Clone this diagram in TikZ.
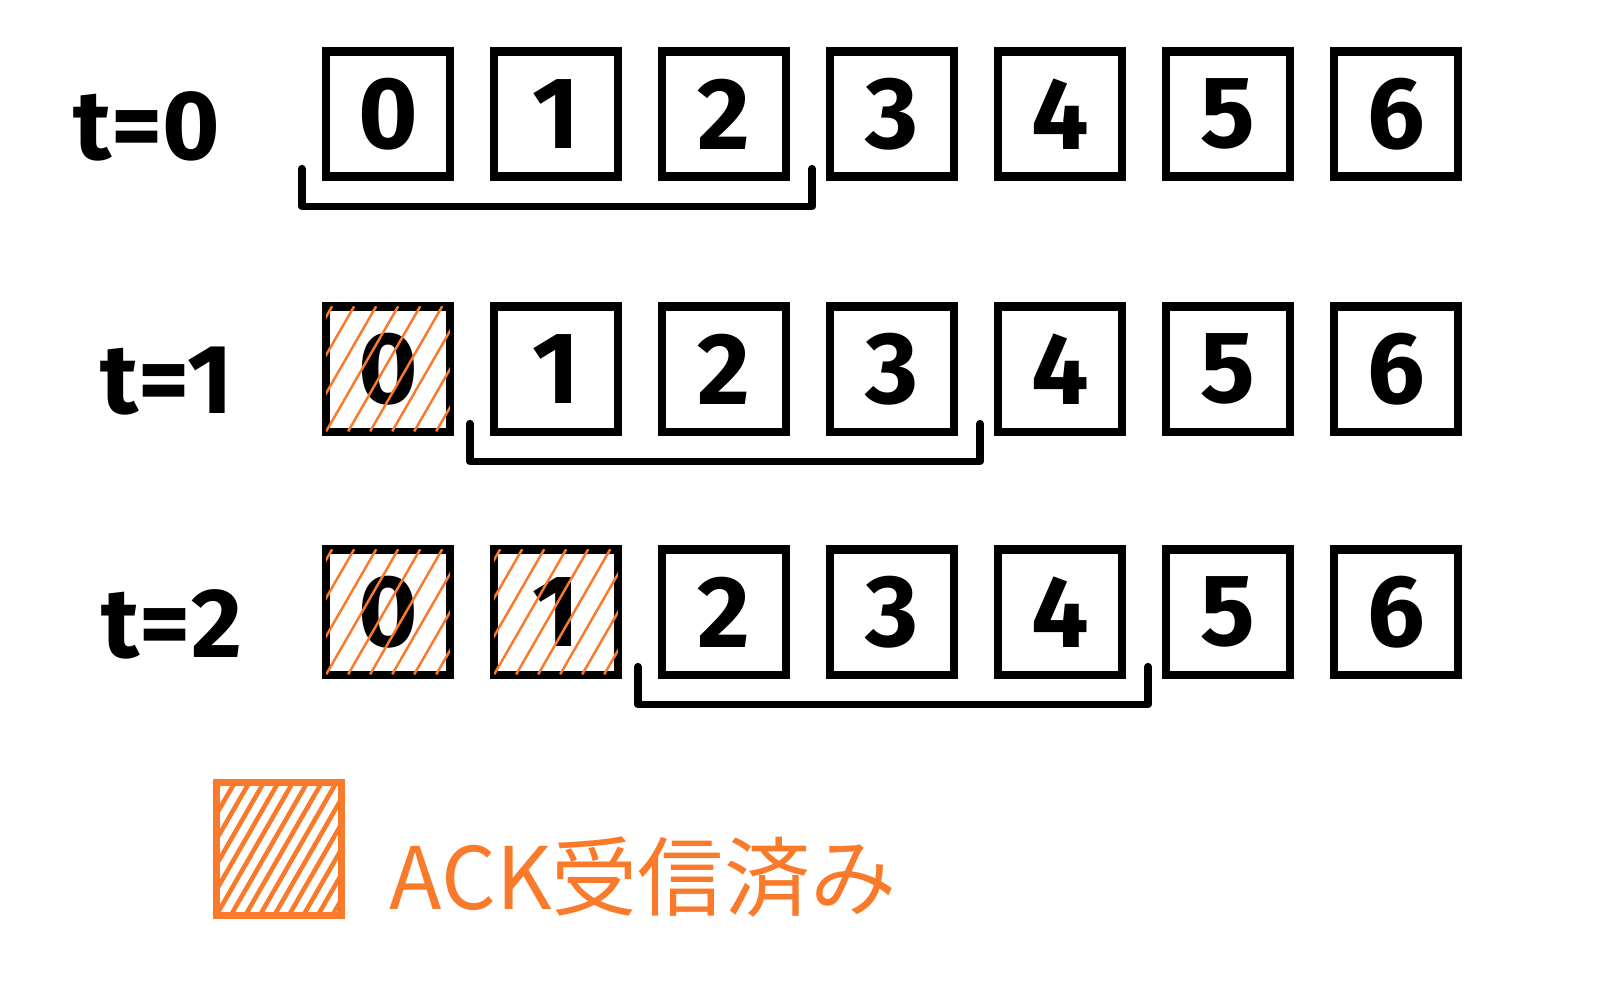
\documentclass[tikz,border=0pt]{standalone}
\usepackage{fontspec}
\setmainfont{Fira Sans}
\newfontfamily\jpfont{Noto Sans CJK JP}
\usetikzlibrary{calc}
\definecolor{ackorange}{HTML}{F97A2A}
\tikzset{
  slot/.style={draw,line width=2.3pt,minimum width=1.24cm,minimum height=1.25cm,inner sep=0pt,font=\fontsize{29}{31}\selectfont\bfseries},
  acked/.style={path picture={\foreach \k in {-4,...,6}
    \draw[ackorange,line width=0.7pt] ([xshift=\k*0.22cm]path picture bounding box.south west) -- ++(0.72cm,1.25cm);}},
  keyhatch/.style={path picture={\foreach \k in {-6,...,9}
    \draw[ackorange,line width=1.3pt] ([xshift=\k*0.145cm]path picture bounding box.south west) -- ++(0.76cm,1.32cm);}},
  win/.style={line width=2.1pt,line cap=round,line join=round},
  tlabel/.style={font=\fontsize{28}{30}\selectfont\bfseries}
}
\begin{document}
\begin{tikzpicture}[x=0.01cm,y=-0.01cm]
\useasboundingbox (0,0) rectangle (1613,1000);
% frames per time step
\foreach \r/\y/\lx in {0/114/147,1/369/167,2/612/172}{
  \node[tlabel] (t\r) at (\lx,\y+12) {t=\r};
  \foreach \i in {0,...,6}
    \node[slot] (b\r-\i) at (388+168*\i,\y) {\i};
}
% acked frames
\foreach \r/\i in {1/0,2/0,2/1}
  \path[acked] ([shift={(1.2pt,1.2pt)}]b\r-\i.south west) rectangle ([shift={(-1.2pt,-1.2pt)}]b\r-\i.north east);
% send window
\foreach \r/\i/\j in {0/0/2,1/1/3,2/2/4}
  \draw[win] ([shift={(-0.2cm,0.12cm)}]b\r-\i.south west) |- ([shift={(0.22cm,-0.26cm)}]b\r-\j.south east)
    -- ([shift={(0.22cm,0.12cm)}]b\r-\j.south east);
% legend
\node[draw=ackorange,line width=2pt,minimum width=1.25cm,minimum height=1.32cm,keyhatch] (key) at (279,849) {};
\node[text=ackorange,font=\jpfont\fontsize{24.5}{27}\selectfont] (keytext) at (643,877) {ACK受信済み};
\end{tikzpicture}
\end{document}
